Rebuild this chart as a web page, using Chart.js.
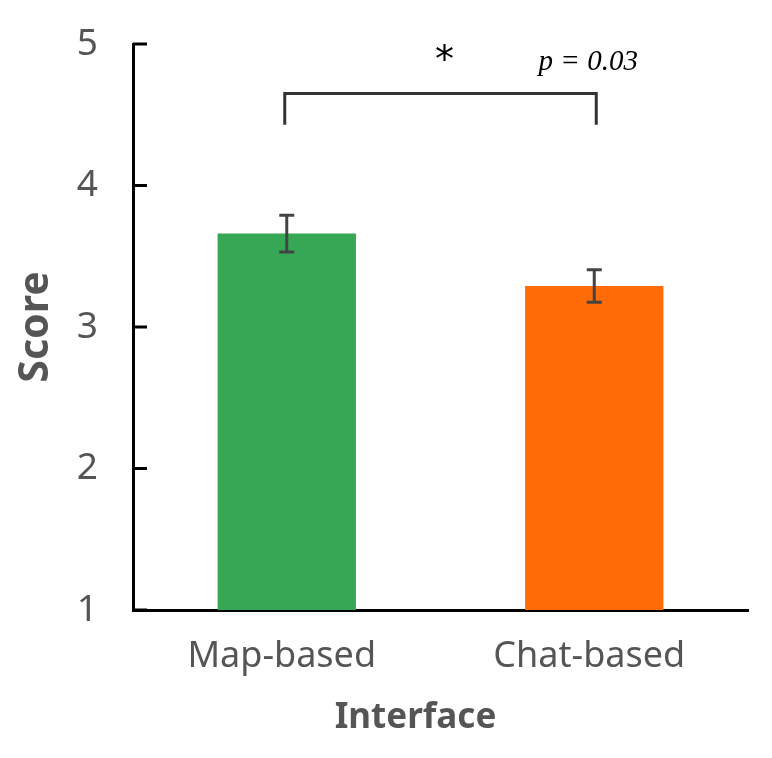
<!DOCTYPE html>
<html>
<head>
<meta charset="utf-8">
<script src="https://cdn.jsdelivr.net/npm/chart.js@4.4.0/dist/chart.umd.min.js"></script>
<style>
  html, body { margin: 0; padding: 0; background: #fff; }
  #wrap { width: 772px; height: 758px; }
</style>
</head>
<body>
<div id="wrap"><canvas id="scoreChart"></canvas></div>
<script>
// chart data
const interfaces = ['Map-based', 'Chat-based'];
const meanScores = [3.66, 3.29];
const stdErrors = [0.13, 0.115];
const barColors = ['#36a855', '#ff6b06'];
const yTicks = [1, 2, 3, 4, 5];
// significance bracket (bottom, top, top, bottom)
const bracketValues = [4.43, 4.65, 4.65, 4.43];
const sigMark = '*';
const pLabel = 'p = 0.03';
const xTitle = 'Interface';

const FONT = '"Noto Sans", "Liberation Sans", sans-serif';

// draws error bars, inward y ticks, the bracket and its labels
const extrasPlugin = {
    id: 'extras',
    afterDatasetsDraw(chart) {
        const ctx = chart.ctx;
        const x = chart.scales.x;
        const y = chart.scales.y;
        ctx.save();

        // error bars
        ctx.strokeStyle = '#444';
        ctx.lineWidth = 3;
        meanScores.forEach((m, i) => {
            const cx = x.getPixelForValue(i);
            const top = y.getPixelForValue(m + stdErrors[i]);
            const bot = y.getPixelForValue(m - stdErrors[i]);
            ctx.beginPath();
            ctx.moveTo(cx, top); ctx.lineTo(cx, bot);
            ctx.moveTo(cx - 7.5, top); ctx.lineTo(cx + 7.5, top);
            ctx.moveTo(cx - 7.5, bot); ctx.lineTo(cx + 7.5, bot);
            ctx.stroke();
        });

        // inward ticks on the y axis
        ctx.strokeStyle = '#000';
        yTicks.forEach(v => {
            const py = y.getPixelForValue(v);
            ctx.beginPath();
            ctx.moveTo(x.left, py);
            ctx.lineTo(x.left + 14, py);
            ctx.stroke();
        });

        // bracket
        const x0 = x.getPixelForValue(0) - 2;
        const x1 = x.getPixelForValue(1) + 2;
        ctx.strokeStyle = '#333';
        ctx.beginPath();
        ctx.moveTo(x0, y.getPixelForValue(bracketValues[0]));
        ctx.lineTo(x0, y.getPixelForValue(bracketValues[1]));
        ctx.lineTo(x1, y.getPixelForValue(bracketValues[2]));
        ctx.lineTo(x1, y.getPixelForValue(bracketValues[3]));
        ctx.stroke();

        // star and p value
        ctx.fillStyle = '#000';
        ctx.textAlign = 'center';
        ctx.textBaseline = 'middle';
        ctx.font = '38px "DejaVu Sans", sans-serif';
        ctx.fillText(sigMark, (x0 + x1) / 2 + 4, y.getPixelForValue(4.87));
        ctx.font = 'italic 29px "Liberation Serif", serif';
        ctx.textBaseline = 'alphabetic';
        ctx.fillText(pLabel, x1 - 8, y.getPixelForValue(4.815));

        // x axis title, a little left of the plot centre like the original
        ctx.fillStyle = '#555';
        ctx.font = 'bold 35px ' + FONT;
        ctx.textBaseline = 'middle';
        ctx.fillText(xTitle, (x.left + x.right) / 2 - 25, x.top + 108);
        ctx.restore();
    }
};

const ctx = document.getElementById('scoreChart').getContext('2d');
new Chart(ctx, {
    type: 'bar',
    data: {
        labels: interfaces,
        datasets: [{
            data: meanScores,
            backgroundColor: barColors,
            borderWidth: 0,
            barPercentage: 0.45,
            categoryPercentage: 1.0
        }]
    },
    options: {
        responsive: true,
        maintainAspectRatio: false,
        animation: false,
        layout: { padding: { top: 44, right: 24, left: 0, bottom: 0 } },
        plugins: {
            legend: { display: false },
            tooltip: { enabled: false }
        },
        scales: {
            x: {
                grid: { display: false },
                border: { color: '#000', width: 3 },
                ticks: {
                    color: '#555',
                    font: { family: FONT, size: 36 },
                    padding: 17,
                    labelOffset: -5
                },
                afterFit(scale) {
                    scale.height = 148;
                    scale.paddingLeft = 0;
                    scale.paddingRight = 0;
                }
            },
            y: {
                min: 1,
                max: 5,
                grid: { display: false },
                border: { color: '#000', width: 3 },
                afterBuildTicks(scale) {
                    scale.ticks = yTicks.map(v => ({ value: v }));
                },
                ticks: {
                    color: '#555',
                    font: { family: FONT, size: 37 },
                    padding: 27
                },
                title: {
                    display: true,
                    text: 'Score',
                    color: '#555',
                    font: { family: FONT, size: 41, weight: 'bold' },
                    padding: { top: 12, bottom: 0 }
                },
                afterFit(scale) {
                    scale.width = 133;
                    scale.paddingTop = 0;
                    scale.paddingBottom = 0;
                }
            }
        }
    },
    plugins: [extrasPlugin]
});
</script>
</body>
</html>
